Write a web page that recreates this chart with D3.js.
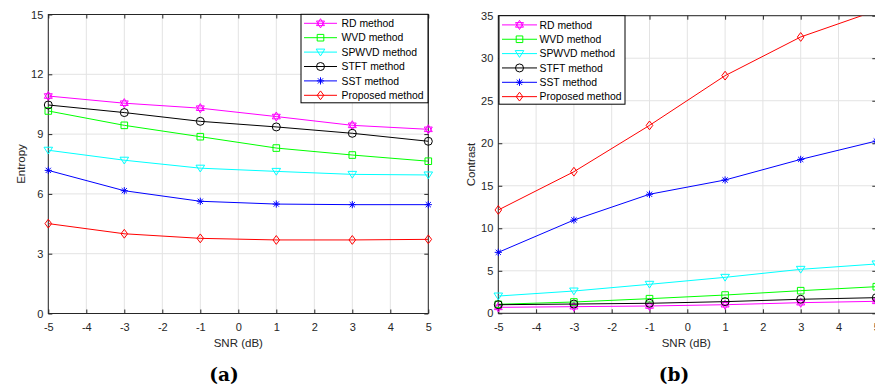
<!DOCTYPE html>
<html><head><meta charset="utf-8">
<script src="https://cdn.jsdelivr.net/npm/d3@7"></script>
<style>body{margin:0;background:#fff;overflow:hidden} svg{display:block}</style>
</head><body>
<svg id="c" width="875" height="389"></svg>
<script>
// ---------- data ----------
const snr = [-5, -3, -1, 1, 3, 5];
const xTickValues = [-5, -4, -3, -2, -1, 0, 1, 2, 3, 4, 5];
const methods = ["RD method", "WVD method", "SPWVD method", "STFT method", "SST method", "Proposed method"];

const entropyRD       = [10.91, 10.55, 10.30, 9.88, 9.44, 9.24];
const entropyWVD      = [10.16, 9.44, 8.87, 8.30, 7.95, 7.64];
const entropySPWVD    = [8.19, 7.69, 7.29, 7.13, 6.98, 6.95];
const entropySTFT     = [10.46, 10.08, 9.64, 9.36, 9.04, 8.64];
const entropySST      = [7.18, 6.16, 5.63, 5.49, 5.46, 5.46];
const entropyProposed = [4.51, 4.00, 3.77, 3.69, 3.69, 3.72];
const entropyTicks = [0, 3, 6, 9, 12, 15];

const contrastRD       = [0.70, 0.78, 0.86, 1.01, 1.25, 1.41];
const contrastWVD      = [1.06, 1.33, 1.72, 2.15, 2.66, 3.13];
const contrastSPWVD    = [2.03, 2.62, 3.41, 4.23, 5.17, 5.80];
const contrastSTFT     = [1.01, 1.09, 1.18, 1.37, 1.65, 1.84];
const contrastSST      = [7.17, 10.97, 14.00, 15.68, 18.10, 20.26];
const contrastProposed = [12.15, 16.65, 22.10, 27.95, 32.50, 35.60];
const contrastTicks = [0, 5, 10, 15, 20, 25, 30, 35];

// ---------- styles ----------
const colors = ["#ff00ff", "#00ff00", "#00ffff", "#000000", "#0000ff", "#ff0000"];
const shapes = ["hexagram", "square", "triangleDown", "circle", "asterisk", "diamond"];
const axisColor = "#262626";
const gridColor = "#e3e3e3";
const sansFont = "'Liberation Sans', Arial, sans-serif";
const fmt = d => String(d);

function markerPath(shape) {
  switch (shape) {
    case "square": return "M-3.3,-3.3H3.3V3.3H-3.3Z";
    case "diamond": return "M0,-4.4L3.3,0L0,4.4L-3.3,0Z";
    case "triangleDown": return "M-4.3,-3L4.3,-3L0,3.8Z";
    case "circle": return "M4,0A4,4 0 1,1 -4,0A4,4 0 1,1 4,0Z";
    case "asterisk": return "M0,-3.6V3.6M-3.6,0H3.6M-2.6,-2.6L2.6,2.6M-2.6,2.6L2.6,-2.6";
    case "hexagram": {
      const r = 4.6, p = [];
      for (let k = 0; k < 2; k++) {
        const pts = [];
        for (let i = 0; i < 3; i++) {
          const a = (k ? Math.PI : 0) - Math.PI / 2 + i * 2 * Math.PI / 3;
          pts.push([r * Math.cos(a), r * Math.sin(a)]);
        }
        p.push("M" + pts.map(q => q[0].toFixed(2) + "," + q[1].toFixed(2)).join("L") + "Z");
      }
      return p.join("");
    }
  }
}

const panels = [
  { id: "a", series: [entropyRD, entropyWVD, entropySPWVD, entropySTFT, entropySST, entropyProposed],
    yTicks: entropyTicks, yMax: 15, ylabel: "Entropy", tag: "(a)",
    x0: 48.3, x1: 428.3, y0: 313.5, y1: 14.5, ylabX: 21, tagX: 224,
    leg: { x: 301, y: 14.3, w: 127, h: 88.5, lineX0: 304, lineX1: 337, textX: 341.5, row0: 23.3, dy: 14.4 } },
  { id: "b", series: [contrastRD, contrastWVD, contrastSPWVD, contrastSTFT, contrastSST, contrastProposed],
    yTicks: contrastTicks, yMax: 35, ylabel: "Contrast", tag: "(b)",
    x0: 498.3, x1: 876.3, y0: 313.3, y1: 15.7, ylabX: 471, tagX: 674,
    leg: { x: 499, y: 15.7, w: 126, h: 88.5, lineX0: 502, lineX1: 537, textX: 539.5, row0: 24.9, dy: 14.35 } }
];

const svg = d3.select("#c");
const defs = svg.append("defs");

panels.forEach(P => {
  const x = d3.scaleLinear().domain([-5, 5]).range([P.x0, P.x1]);
  const y = d3.scaleLinear().domain([0, P.yMax]).range([P.y0, P.y1]);
  const g = svg.append("g");

  defs.append("clipPath").attr("id", "clip" + P.id)
    .append("rect").attr("x", P.x0).attr("y", P.y1).attr("width", P.x1 - P.x0).attr("height", P.y0 - P.y1);

  // grid
  g.append("g").selectAll("line").data(xTickValues).join("line")
    .attr("x1", d => x(d)).attr("x2", d => x(d)).attr("y1", P.y0).attr("y2", P.y1)
    .attr("stroke", gridColor).attr("stroke-width", 1);
  g.append("g").selectAll("line").data(P.yTicks).join("line")
    .attr("y1", d => y(d)).attr("y2", d => y(d)).attr("x1", P.x0).attr("x2", P.x1)
    .attr("stroke", gridColor).attr("stroke-width", 1);

  // axes
  const style = sel => {
    sel.select(".domain").remove();
    sel.selectAll("line").attr("stroke", axisColor);
    sel.selectAll("text").attr("fill", axisColor).attr("font-family", sansFont).attr("font-size", 11);
  };
  g.append("g").attr("transform", `translate(0,${P.y0})`)
    .call(d3.axisBottom(x).tickValues(xTickValues).tickSizeInner(-4).tickSizeOuter(0).tickPadding(9.5).tickFormat(fmt))
    .call(style);
  g.append("g").attr("transform", `translate(0,${P.y1})`)
    .call(d3.axisTop(x).tickValues(xTickValues).tickSizeInner(-4).tickSizeOuter(0).tickFormat(""))
    .call(style);
  g.append("g").attr("transform", `translate(${P.x0},0)`)
    .call(d3.axisLeft(y).tickValues(P.yTicks).tickSizeInner(-4).tickSizeOuter(0).tickPadding(5).tickFormat(fmt))
    .call(style);
  g.append("g").attr("transform", `translate(${P.x1},0)`)
    .call(d3.axisRight(y).tickValues(P.yTicks).tickSizeInner(-4).tickSizeOuter(0).tickFormat(""))
    .call(style);
  g.append("rect").attr("x", P.x0).attr("y", P.y1).attr("width", P.x1 - P.x0).attr("height", P.y0 - P.y1)
    .attr("fill", "none").attr("stroke", axisColor).attr("stroke-width", 1);

  // series
  const line = d3.line().x((d, i) => x(snr[i])).y(d => y(d));
  P.series.forEach((vals, k) => {
    g.append("path").attr("d", line(vals)).attr("fill", "none")
      .attr("stroke", colors[k]).attr("stroke-width", 1).attr("clip-path", `url(#clip${P.id})`);
    g.append("g").selectAll("path").data(vals.map((v, i) => [snr[i], v]).filter(d => d[1] <= P.yMax)).join("path")
      .attr("transform", d => `translate(${x(d[0])},${y(d[1])})`)
      .attr("d", markerPath(shapes[k])).attr("fill", "none")
      .attr("stroke", colors[k]).attr("stroke-width", 1);
  });

  // labels
  g.append("text").attr("x", (P.x0 + P.x1) / 2 - (P.id === "b" ? 1 : 0)).attr("y", 347)
    .attr("text-anchor", "middle").attr("fill", axisColor)
    .attr("font-family", sansFont).attr("font-size", 11.5).text("SNR (dB)");
  g.append("text").attr("transform", `translate(${P.ylabX},${(P.y0 + P.y1) / 2}) rotate(-90)`)
    .attr("text-anchor", "middle").attr("dy", "0.35em").attr("fill", axisColor)
    .attr("font-family", sansFont).attr("font-size", 11.5).text(P.ylabel);
  g.append("text").attr("x", P.tagX).attr("y", 381).attr("text-anchor", "middle").attr("fill", "#000")
    .attr("font-family", "'DejaVu Serif', serif").attr("font-weight", "bold").attr("font-size", 18.5).text(P.tag);

  // legend
  const L = P.leg;
  const lg = g.append("g");
  lg.append("rect").attr("x", L.x).attr("y", L.y).attr("width", L.w).attr("height", L.h)
    .attr("fill", "#fff").attr("stroke", "#000").attr("stroke-width", 1);
  methods.forEach((m, k) => {
    const yy = L.row0 + k * L.dy;
    lg.append("line").attr("x1", L.lineX0).attr("x2", L.lineX1).attr("y1", yy).attr("y2", yy)
      .attr("stroke", colors[k]).attr("stroke-width", 1);
    lg.append("path").attr("transform", `translate(${(L.lineX0 + L.lineX1) / 2},${yy})`)
      .attr("d", markerPath(shapes[k])).attr("fill", "none").attr("stroke", colors[k]).attr("stroke-width", 1);
    lg.append("text").attr("x", L.textX).attr("y", yy).attr("dy", "0.35em").attr("fill", "#000")
      .attr("font-family", sansFont).attr("font-size", 10.4).text(m);
  });
});
</script>
</body></html>
